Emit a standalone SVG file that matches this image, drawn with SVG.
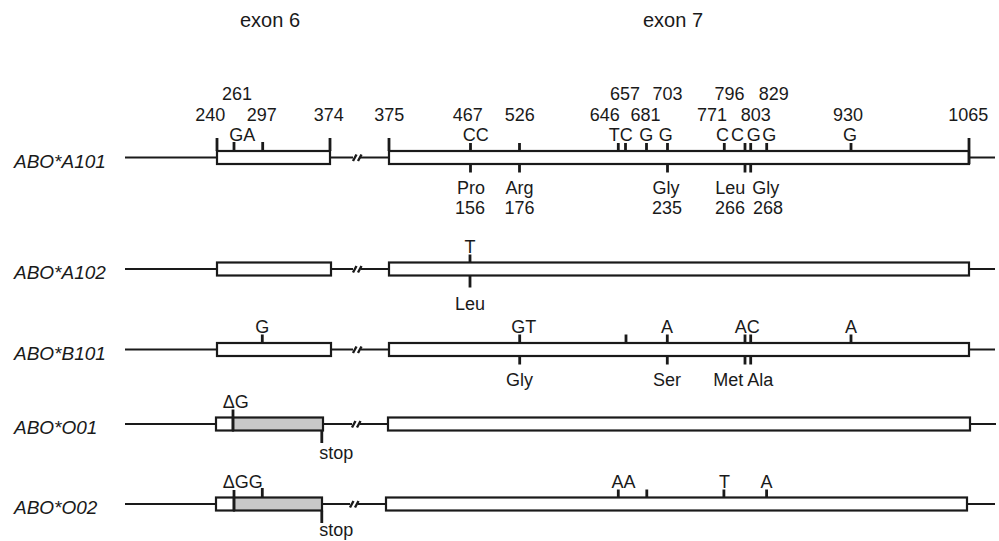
<svg xmlns="http://www.w3.org/2000/svg" width="999" height="541" viewBox="0 0 999 541">
<style>
text{font-family:"Liberation Sans",Arial,sans-serif;font-size:18px;fill:#1a1a1a}
.m{text-anchor:middle}
.lab{font-size:19px;font-style:italic}
.hd{font-size:20px;text-anchor:middle}
.ln{stroke:#1a1a1a;stroke-width:2;fill:none}
.bx{stroke:#1a1a1a;stroke-width:2.2;fill:#fff}
.gr{stroke:#1a1a1a;stroke-width:2.2;fill:#c8c8c8}
.tk{stroke:#1a1a1a;stroke-width:2.8;fill:none}
.sl{stroke:#1a1a1a;stroke-width:2.4;fill:none}
</style>
<rect width="999" height="541" fill="#fff"/>
<g id="headings">
<text class="hd" x="270" y="27">exon 6</text>
<text class="hd" x="673" y="27">exon 7</text>
</g>
<g id="connectors">
<path class="ln" d="M125 157.5H217M330 157.5H353M360 157.5H389M969 157.5H995"/>
<path class="sl" d="M353 161L356.5 154.5M358 161L361.5 154.5"/>
<path class="ln" d="M125 269H217M331 269H353M361 269H389M969 269H995"/>
<path class="sl" d="M353 272.5L356.5 266M358 272.5L361.5 266"/>
<path class="ln" d="M125 349.5H217M331 349.5H353M361 349.5H389M969 349.5H995"/>
<path class="sl" d="M353 353L356.5 346.5M358 353L361.5 346.5"/>
<path class="ln" d="M125 424H216M323 424H352M360 424H388M970 424H996"/>
<path class="sl" d="M352 427.5L355.5 421M357 427.5L360.5 421"/>
<path class="ln" d="M125 504H216M322 504H350M358 504H386M967 504H995"/>
<path class="sl" d="M350 507.5L353.5 501M355 507.5L358.5 501"/>
</g>
<g id="ABO_A101">
<text class="lab" x="14" y="167.5">ABO*A101</text>
<rect class="bx" x="217" y="151" width="113" height="13"/>
<rect class="bx" x="389" y="151" width="580" height="13"/>
<path class="tk" d="M217 138V151M330 138V151M389 138V151M969 138V164M234 142V151M262.7 142V151"/>
<path class="tk" d="M470.5 143V151M519.5 143V151M618.3 143V151M625.5 143V151M646.5 143V151M667.5 143V151M724.3 143V151M745 143V151M750.7 143V151M766.7 143V151M851 143V151"/>
<path class="tk" d="M470.5 164V172.5M519.5 164V172.5M667.5 164V172.5M745 164V172.5M750.7 164V172.5"/>
<text class="m" x="237" y="99.5">261</text>
<text class="m" x="625" y="99.5">657</text>
<text class="m" x="667.5" y="99.5">703</text>
<text class="m" x="729.5" y="99.5">796</text>
<text class="m" x="773.8" y="99.5">829</text>
<text class="m" x="210.3" y="121">240</text>
<text class="m" x="261.7" y="121">297</text>
<text class="m" x="328.8" y="121">374</text>
<text class="m" x="389.2" y="121">375</text>
<text class="m" x="467.8" y="121">467</text>
<text class="m" x="519.7" y="121">526</text>
<text class="m" x="604.8" y="121">646</text>
<text class="m" x="645.5" y="121">681</text>
<text class="m" x="712" y="121">771</text>
<text class="m" x="755.8" y="121">803</text>
<text class="m" x="848" y="121">930</text>
<text class="m" x="968.3" y="121">1065</text>
<text class="m" x="242.2" y="140.5">GA</text>
<text class="m" x="475.8" y="140.5">CC</text>
<text class="m" x="620.8" y="140.5">TC</text>
<text class="m" x="646.3" y="140.5">G</text>
<text class="m" x="665.7" y="140.5">G</text>
<text x="716 731 746.7 762.3" y="140.5">CCGG</text>
<text class="m" x="850" y="140.5">G</text>
<text class="m" x="471" y="194">Pro</text>
<text class="m" x="519.5" y="194">Arg</text>
<text class="m" x="666" y="194">Gly</text>
<text class="m" x="730.3" y="194">Leu</text>
<text class="m" x="765.8" y="194">Gly</text>
<text class="m" x="470" y="214">156</text>
<text class="m" x="519.5" y="214">176</text>
<text class="m" x="667" y="214">235</text>
<text class="m" x="730" y="214">266</text>
<text class="m" x="768" y="214">268</text>
</g>
<g id="ABO_A102">
<text class="lab" x="14" y="279">ABO*A102</text>
<rect class="bx" x="217" y="262.5" width="114" height="13"/>
<rect class="bx" x="389" y="262.5" width="580" height="13"/>
<path class="tk" d="M470 254.5V262.5M470 275.5V287.5"/>
<text class="m" x="470" y="253">T</text>
<text class="m" x="470" y="310">Leu</text>
</g>
<g id="ABO_B101">
<text class="lab" x="14" y="359.5">ABO*B101</text>
<rect class="bx" x="217" y="343" width="114" height="13"/>
<rect class="bx" x="389" y="343" width="580" height="13"/>
<path class="tk" d="M262.3 334.5V343M519.7 334.5V343M626 334.5V343M667.3 334.5V343M745 334.5V343M750.7 334.5V343M851 334.5V343"/>
<path class="tk" d="M519.7 356V364.5M667.3 356V364.5M745 356V364.5M750.7 356V364.5"/>
<text class="m" x="262.3" y="333">G</text>
<text class="m" x="523.8" y="333">GT</text>
<text class="m" x="667" y="333">A</text>
<text class="m" x="747.2" y="333">AC</text>
<text class="m" x="851" y="333">A</text>
<text class="m" x="519.5" y="385.5">Gly</text>
<text class="m" x="667" y="385.5">Ser</text>
<text x="713.3" y="385.5">Met Ala</text>
</g>
<g id="ABO_O01">
<text class="lab" x="14" y="434">ABO*O01</text>
<rect class="bx" x="216" y="417.5" width="17" height="13"/>
<rect class="gr" x="233" y="417.5" width="90" height="13"/>
<rect class="bx" x="388" y="417.5" width="582" height="13"/>
<path class="tk" d="M233 409.5V430.5M321.8 430.5V443"/>
<text x="222.7" y="408">ΔG</text>
<text class="m" x="336.3" y="459">stop</text>
</g>
<g id="ABO_O02">
<text class="lab" x="14" y="514">ABO*O02</text>
<rect class="bx" x="216" y="497.5" width="18" height="13"/>
<rect class="gr" x="234" y="497.5" width="88" height="13"/>
<rect class="bx" x="386" y="497.5" width="581" height="13"/>
<path class="tk" d="M234 490V510.5M262.3 488V497.5M321.8 510.5V523"/>
<path class="tk" d="M618.3 489.5V497.5M646.8 489.5V497.5M723.9 489.5V497.5M766.6 489.5V497.5"/>
<text x="222.7" y="488">ΔGG</text>
<text class="m" x="336.3" y="536">stop</text>
<text class="m" x="623.6" y="488">AA</text>
<text class="m" x="724.5" y="488">T</text>
<text class="m" x="766.6" y="488">A</text>
</g>
</svg>
